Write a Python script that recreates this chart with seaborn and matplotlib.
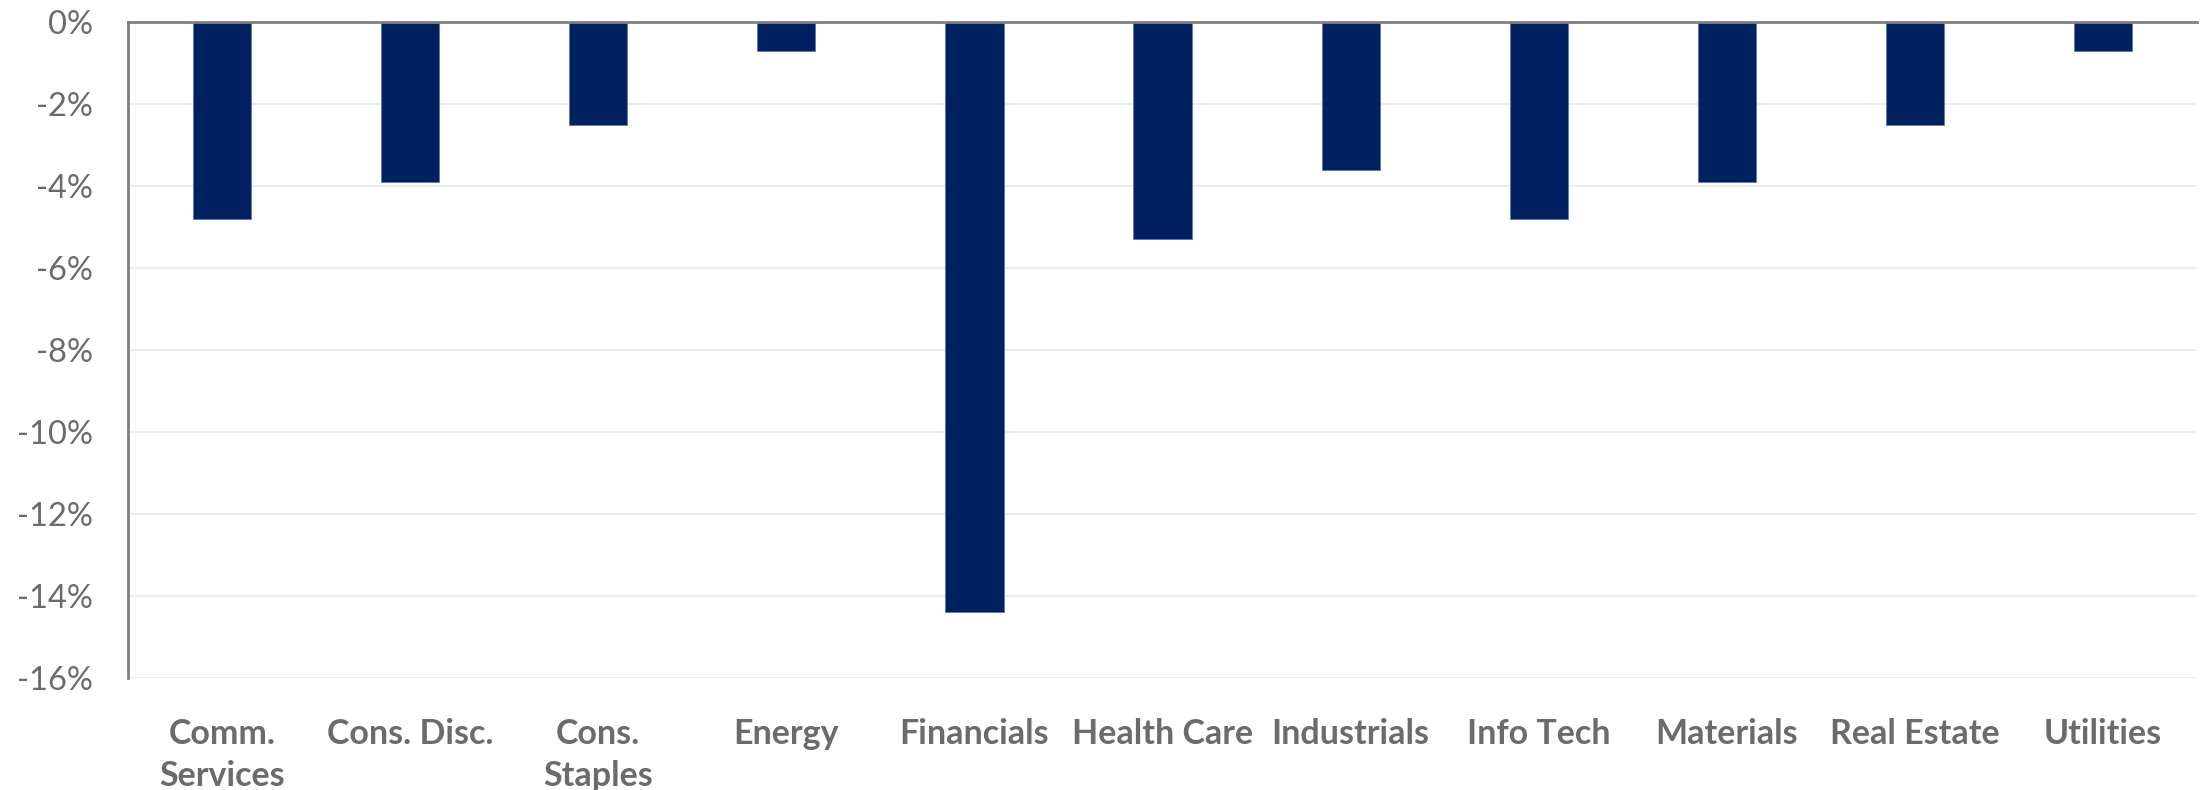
import matplotlib
matplotlib.use("Agg")
import matplotlib.pyplot as plt
import seaborn as sns
import pandas as pd
from matplotlib.ticker import FuncFormatter

sectors = ["Comm.\nServices", "Cons. Disc.", "Cons.\nStaples", "Energy", "Financials",
           "Health Care", "Industrials", "Info Tech", "Materials", "Real Estate", "Utilities"]
returns_pct = [-4.8, -3.9, -2.5, -0.7, -14.4, -5.3, -3.6, -4.8, -3.9, -2.5, -0.7]
y_ticks = [0, -2, -4, -6, -8, -10, -12, -14, -16]

df = pd.DataFrame({"sector": sectors, "ret": returns_pct})

sns.set_theme(style="white")
plt.rcParams["font.family"] = ["Lato", "DejaVu Sans"]

fig = plt.figure(figsize=(22.06, 7.90), dpi=100)
ax = fig.add_axes([0.058, 0.142, 0.938, 0.830])

sns.barplot(data=df, x="sector", y="ret", color="#002060", saturation=1,
            width=0.31, edgecolor="#5a78b0", linewidth=0.6, ax=ax, zorder=3)

ax.set_ylim(-16, 0)
ax.set_xlim(-0.5, len(sectors) - 0.5)
ax.set_yticks(y_ticks)
ax.yaxis.set_major_formatter(FuncFormatter(lambda v, _: f"{v:.0f}%"))
ax.set_xlabel("")
ax.set_ylabel("")

ax.grid(axis="y", color="#ececec", linewidth=1.5, zorder=0)
ax.grid(axis="x", visible=False)

for side in ["bottom", "right"]:
    ax.spines[side].set_visible(False)
for side in ["top", "left"]:
    ax.spines[side].set_visible(True)
    ax.spines[side].set_color("#7f7f7f")
    ax.spines[side].set_linewidth(2)
    ax.spines[side].set_zorder(4)

ax.tick_params(axis="y", length=0, pad=25, labelsize=23.5, labelcolor="#6b6b6b")
ax.tick_params(axis="x", length=0, pad=29, labelsize=24.5, labelcolor="#6b6b6b")
for lbl in ax.get_xticklabels():
    lbl.set_fontweight("bold")
    lbl.set_linespacing(1.4)

fig.savefig("out.png", dpi=100, facecolor="white")
